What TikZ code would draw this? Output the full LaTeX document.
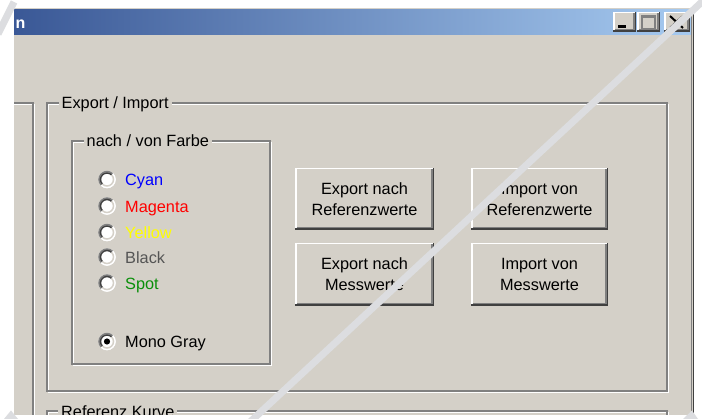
\documentclass[tikz,border=0pt]{standalone}
\usepackage{fontspec}
\setmainfont{Liberation Sans}

\definecolor{face}{HTML}{D4D0C8}
\definecolor{shadow}{HTML}{808080}
\definecolor{darkshadow}{HTML}{404040}
\definecolor{capleft}{HTML}{3A5896}
\definecolor{capright}{HTML}{A6CAF0}
\definecolor{streak}{HTML}{DCDDE0}
\definecolor{cyantext}{HTML}{0000FF}
\definecolor{magentatext}{HTML}{FF0000}
\definecolor{yellowtext}{HTML}{FFFF00}
\definecolor{blacktext}{HTML}{555555}
\definecolor{spottext}{HTML}{0A8F0A}

\tikzset{
  uitext/.style={font=\fontsize{16.3}{19}\selectfont, inner sep=0pt, text=black},
  grouplabel/.style={uitext, anchor=base west, fill=face, inner xsep=3pt, inner ysep=1.5pt},
  radiolabel/.style={uitext, anchor=base west},
  btntext/.style={uitext, anchor=base},
  etchdark/.style={draw=shadow, line width=1.2pt},
  etchlight/.style={draw=white, line width=1.2pt},
  streakline/.style={draw=streak, line width=7pt},
}

% etched group frame: x1, y1, x2, y2
\newcommand\etchedframe[4]{%
  \draw[etchlight] (#1+1.4,#2+1.4) rectangle (#3+1.4,#4+1.4);
  \draw[etchdark] (#1,#2) rectangle (#3,#4);}

% raised 3D button face: x1, y1, x2, y2
\newcommand\raisedface[4]{%
  \fill[face] (#1,#2) rectangle (#3,#4);
  \draw[white, line width=1.5pt] (#1+0.75,#4-1.5) -- (#1+0.75,#2+0.75) -- (#3-1.5,#2+0.75);
  \draw[darkshadow, line width=1.5pt] (#1,#4-0.75) -- (#3-0.75,#4-0.75) -- (#3-0.75,#2);
  \draw[shadow, line width=1.5pt] (#1+1.5,#4-2.25) -- (#3-2.25,#4-2.25) -- (#3-2.25,#2+1.5);}

% sunken radio ring centred at x, y
\newcommand\radioring[2]{%
  \fill[white] (#1,#2) circle (8.7);
  \draw[shadow, line width=1.5pt] (#1,#2) ++(135:8) arc (135:315:8);
  \draw[white, line width=1.5pt] (#1,#2) ++(315:8) arc (315:495:8);
  \draw[darkshadow, line width=1.5pt] (#1,#2) ++(135:6.5) arc (135:315:6.5);
  \draw[face, line width=1.5pt] (#1,#2) ++(315:6.5) arc (315:495:6.5);}

\begin{document}
\begin{tikzpicture}[x=1pt, y=-1pt]
\useasboundingbox (0,0) rectangle (702,419);
\fill[white] (0,0) rectangle (702,419);

\begin{scope}
  \clip (14,8) rectangle (694,415);
  % window body
  \fill[face] (14,8) rectangle (694,415);
  % caption bar
  \shade[left color=capleft, right color=capright] (14,10) rectangle (691,35);
  \node[font=\bfseries\fontsize{16}{19}\selectfont, text=white, inner sep=0pt, anchor=base west]
    (caption) at (15.5,28.3) {n};
  % right window border
  \draw[shadow, line width=1pt] (691.5,8) -- (691.5,415);
  \draw[darkshadow, line width=1pt] (693.2,8) -- (693.2,415);

  % caption buttons
  \raisedface{613}{12}{636}{32}
  \fill[black] (618,25) rectangle (626,28);
  \raisedface{637}{12}{660}{32}
  \draw[shadow, line width=1.3pt] (642,15.5) rectangle (655,28.5);
  \draw[shadow, line width=1.3pt] (642,17) -- (655,17);
  \raisedface{664}{12}{690}{32}
  \draw[black, line width=2pt] (670,16) -- (683,28) (683,16) -- (670,28);

  % group frame at the left edge
  \etchedframe{-20}{103}{33}{460}

  % Export / Import group
  \etchedframe{47}{103}{667}{391}
  \node[grouplabel] (grpexport) at (58.5,108.5) {Export / Import};

  % colour selection group
  \etchedframe{72}{141}{270}{364}
  \node[grouplabel] (grpcolour) at (83.5,146.5) {nach / von Farbe};

  \radioring{107}{179.5}
  \node[radiolabel, text=cyantext] (lcyan) at (125,186) {Cyan};
  \radioring{107}{206}
  \node[radiolabel, text=magentatext] (lmagenta) at (125,212.5) {Magenta};
  \radioring{107}{232.5}
  \node[radiolabel, text=yellowtext] (lyellow) at (125,239) {Yellow};
  \radioring{107}{257}
  \node[radiolabel, text=blacktext] (lblack) at (125,263.5) {Black};
  \radioring{107}{283}
  \node[radiolabel, text=spottext] (lspot) at (125,289.5) {Spot};
  \radioring{107}{341.5}
  \fill[black] (107,341.5) circle (3.1);
  \node[radiolabel] (lmono) at (125,348) {Mono Gray};

  % push buttons
  \raisedface{295}{168}{434}{230}
  \node[btntext] (exprefa) at (364.5,194.5) {Export nach};
  \node[btntext] (exprefb) at (364.5,216) {Referenzwerte};
  \raisedface{471}{168}{608}{230}
  \node[btntext] (imprefa) at (539.5,194.5) {Import von};
  \node[btntext] (imprefb) at (539.5,216) {Referenzwerte};
  \raisedface{295}{243}{434}{306}
  \node[btntext] (expmesa) at (364.5,270) {Export nach};
  \node[btntext] (expmesb) at (364.5,291) {Messwerte};
  \raisedface{471}{243}{608}{306}
  \node[btntext] (impmesa) at (539.5,270) {Import von};
  \node[btntext] (impmesb) at (539.5,291) {Messwerte};

  % next group, cut by the lower edge
  \etchedframe{47}{411}{667}{470}
  \node[grouplabel] (grpcurve) at (58,417.5) {Referenz Kurve};
\end{scope}

% light strokes over the picture
\draw[streakline] (705,-1) -- (250,422);
\draw[streakline] (14,2) -- (-2,34);
\fill[streak] (4,419) -- (11,410.5) -- (18,419) -- cycle;
\fill[streak] (683,419) -- (692,410.5) -- (698,419) -- cycle;
\end{tikzpicture}
\end{document}
